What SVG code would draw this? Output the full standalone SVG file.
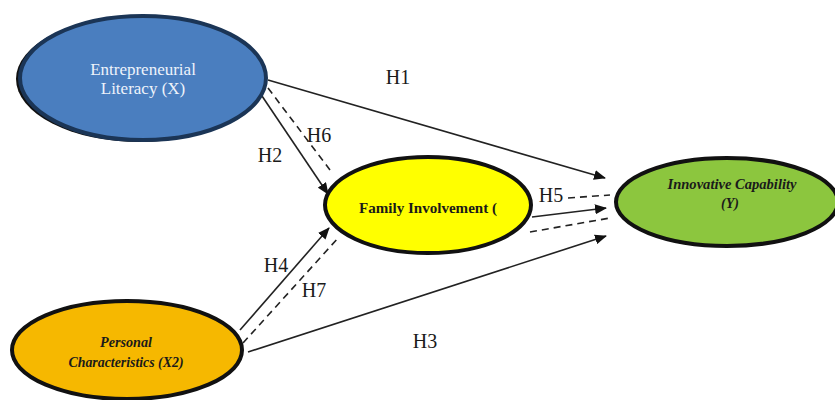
<svg xmlns="http://www.w3.org/2000/svg" width="835" height="400" viewBox="0 0 835 400">
<style>
.node{stroke-width:4}
.lbl{font-family:"Liberation Serif","Times New Roman",serif;font-size:20px;fill:#1a1a1a;text-anchor:middle}
.c{stroke:#222;stroke-width:1.6;fill:none}
.d{stroke-dasharray:7 5}
.nt{font-family:"Liberation Serif","Times New Roman",serif;text-anchor:middle}
</style>
<defs>
<marker id="ah" viewBox="0 0 12 10" refX="11" refY="5" markerWidth="12" markerHeight="10" markerUnits="userSpaceOnUse" orient="auto">
<path d="M0,0 L12,5 L0,10 Z" fill="#111"/>
</marker>
</defs>
<rect width="835" height="400" fill="#fff"/>
<g id="connectors">
<line class="c" x1="268" y1="80" x2="605" y2="178" marker-end="url(#ah)"/>
<line class="c" x1="262" y1="96" x2="328" y2="194" marker-end="url(#ah)"/>
<line class="c d" x1="268" y1="88" x2="330" y2="170"/>
<line class="c" x1="240" y1="330" x2="329" y2="228" marker-end="url(#ah)"/>
<line class="c d" x1="243" y1="343" x2="339" y2="237"/>
<line class="c" x1="248" y1="352" x2="606" y2="236" marker-end="url(#ah)"/>
<line class="c" x1="532" y1="217" x2="606" y2="208" marker-end="url(#ah)"/>
<line class="c d" x1="568" y1="198" x2="610" y2="195"/>
<line class="c d" x1="530" y1="232" x2="610" y2="218"/>
</g>
<g id="labels">
<text class="lbl" x="398" y="84">H1</text>
<text class="lbl" x="270" y="162">H2</text>
<text class="lbl" x="319" y="142">H6</text>
<text class="lbl" x="551" y="202">H5</text>
<text class="lbl" x="276" y="272">H4</text>
<text class="lbl" x="314" y="297">H7</text>
<text class="lbl" x="425" y="348">H3</text>
</g>
<g id="n_entrepreneurial">
<ellipse cx="140" cy="79" rx="124" ry="63" fill="#111"/>
<ellipse class="node" cx="143" cy="78" rx="123" ry="62" fill="#4a7ebf" stroke="#1b3556"/>
<text class="nt" x="143" y="75" font-size="17" fill="#eef3fb">Entrepreneurial</text>
<text class="nt" x="143" y="94" font-size="17" fill="#eef3fb">Literacy (X)</text>
</g>
<g id="n_family">
<ellipse class="node" cx="428" cy="205" rx="103" ry="48" fill="#ffff00" stroke="#111"/>
<text class="nt" x="428" y="213" font-size="15" font-weight="bold" fill="#1a1a1a" textLength="138" lengthAdjust="spacingAndGlyphs">Family Involvement (</text>
</g>
<g id="n_innovative">
<ellipse class="node" cx="727" cy="202" rx="111" ry="44" fill="#8cc63e" stroke="#111"/>
<text class="nt" x="732" y="189" font-size="14" font-style="italic" font-weight="bold" fill="#1a1a1a" textLength="129" lengthAdjust="spacingAndGlyphs">Innovative Capability</text>
<text class="nt" x="730" y="208" font-size="14" font-style="italic" font-weight="bold" fill="#1a1a1a">(Y)</text>
</g>
<g id="n_personal">
<ellipse class="node" cx="127" cy="350" rx="115" ry="49" fill="#f6b800" stroke="#111"/>
<text class="nt" x="126" y="347" font-size="14" font-style="italic" font-weight="bold" fill="#1a1a1a" textLength="52" lengthAdjust="spacingAndGlyphs">Personal</text>
<text class="nt" x="126" y="367" font-size="14" font-style="italic" font-weight="bold" fill="#1a1a1a" textLength="115" lengthAdjust="spacingAndGlyphs">Characteristics (X2)</text>
</g>
</svg>
